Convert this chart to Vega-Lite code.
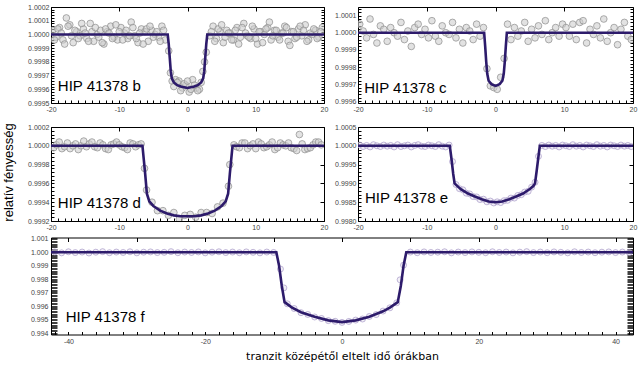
{
"$schema": "https://vega.github.io/schema/vega-lite/v6.json",
"background": "white",
"padding": {"left": 0, "top": 2, "right": 2, "bottom": 2},
"config": {
  "view": {"stroke": "#000", "strokeWidth": 1},
  "axis": {"domain": false, "grid": false, "ticks": true, "labelFont": "Liberation Sans", "labelFontSize": 7, "labelColor": "#444", "tickColor": "#000", "tickWidth": 1, "tickOpacity": 1, "labelOverlap": false, "labelFlush": false, "zindex": 1}
},
"datasets": {
"pb": [{"x":-19.75,"y":1.00003},{"x":-19.25,"y":0.99998},{"x":-18.75,"y":1.00005},{"x":-18.25,"y":0.99996},{"x":-17.75,"y":1.00012},{"x":-17.25,"y":1.00007},{"x":-16.75,"y":0.99994},{"x":-16.25,"y":1.00002},{"x":-15.75,"y":0.99999},{"x":-15.25,"y":1.00004},{"x":-14.75,"y":0.99997},{"x":-14.25,"y":1.00008},{"x":-13.75,"y":0.99995},{"x":-13.25,"y":1.0},{"x":-12.75,"y":1.00003},{"x":-12.25,"y":0.99993},{"x":-11.75,"y":1.00002},{"x":-11.25,"y":1.00006},{"x":-10.75,"y":0.99998},{"x":-10.25,"y":0.99996},{"x":-9.75,"y":1.00005},{"x":-9.25,"y":1.00001},{"x":-8.75,"y":0.99997},{"x":-8.25,"y":1.00009},{"x":-7.75,"y":0.99999},{"x":-7.25,"y":0.99994},{"x":-6.75,"y":1.00004},{"x":-6.25,"y":1.00002},{"x":-5.75,"y":0.99995},{"x":-5.25,"y":1.00003},{"x":-4.75,"y":1.0},{"x":-4.25,"y":0.99998},{"x":-3.75,"y":1.00006},{"x":-3.25,"y":0.99996},{"x":-2.75,"y":0.99988},{"x":-2.25,"y":0.99966},{"x":-1.75,"y":0.99967},{"x":-1.25,"y":0.99966},{"x":-0.75,"y":0.99961},{"x":-0.25,"y":0.99963},{"x":0.25,"y":0.99958},{"x":0.75,"y":0.99967},{"x":1.25,"y":0.99961},{"x":1.75,"y":0.9996},{"x":2.25,"y":0.99973},{"x":2.75,"y":0.99987},{"x":3.25,"y":0.99999},{"x":3.75,"y":1.00006},{"x":4.25,"y":0.99997},{"x":4.75,"y":1.00002},{"x":5.25,"y":0.99994},{"x":5.75,"y":1.00003},{"x":6.25,"y":1.00001},{"x":6.75,"y":0.99996},{"x":7.25,"y":1.00005},{"x":7.75,"y":0.99998},{"x":8.25,"y":1.00008},{"x":8.75,"y":0.99999},{"x":9.25,"y":0.99997},{"x":9.75,"y":1.00004},{"x":10.25,"y":0.99993},{"x":10.75,"y":1.00002},{"x":11.25,"y":1.0},{"x":11.75,"y":1.00005},{"x":12.25,"y":0.99996},{"x":12.75,"y":1.00003},{"x":13.25,"y":0.99998},{"x":13.75,"y":1.00001},{"x":14.25,"y":1.00006},{"x":14.75,"y":0.99995},{"x":15.25,"y":1.00002},{"x":15.75,"y":0.99997},{"x":16.25,"y":1.00004},{"x":16.75,"y":0.99999},{"x":17.25,"y":1.00007},{"x":17.75,"y":0.99996},{"x":18.25,"y":1.0},{"x":18.75,"y":1.00003},{"x":19.25,"y":0.99998},{"x":19.75,"y":1.00005},
{"x":-19.5,"y":0.99996},{"x":-19,"y":1.00004},{"x":-18.5,"y":1.00001},{"x":-18,"y":0.99993},{"x":-17.5,"y":1.00006},{"x":-17,"y":0.99999},{"x":-16.5,"y":1.00003},{"x":-16,"y":0.99997},{"x":-15.5,"y":1.00008},{"x":-15,"y":1.00001},{"x":-14.5,"y":0.99995},{"x":-14,"y":1.00002},{"x":-13.5,"y":1.00005},{"x":-13,"y":0.99998},{"x":-12.5,"y":0.99994},{"x":-12,"y":1.00004},{"x":-11.5,"y":1.00001},{"x":-11,"y":0.99997},{"x":-10.5,"y":1.00007},{"x":-10,"y":1.00002},{"x":-9.5,"y":0.99996},{"x":-9,"y":1.00003},{"x":-8.5,"y":0.99999},{"x":-8,"y":1.00005},{"x":-7.5,"y":0.99997},{"x":-7,"y":1.00001},{"x":-6.5,"y":0.99993},{"x":-6,"y":1.00004},{"x":-5.5,"y":1.00006},{"x":-5,"y":0.99998},{"x":-4.5,"y":1.00002},{"x":-4,"y":0.99995},{"x":-3.5,"y":1.00003},{"x":-2.5,"y":0.99972},{"x":-2,"y":0.99962},{"x":-1.5,"y":0.99965},{"x":-1,"y":0.99959},{"x":-0.5,"y":0.99964},{"x":0,"y":0.99966},{"x":0.5,"y":0.9996},{"x":1,"y":0.99963},{"x":1.5,"y":0.99959},{"x":2,"y":0.99965},{"x":2.5,"y":0.9998},{"x":3.5,"y":1.00002},{"x":4,"y":0.99995},{"x":4.5,"y":1.00004},{"x":5,"y":1.00007},{"x":5.5,"y":0.99998},{"x":6,"y":1.00001},{"x":6.5,"y":0.99996},{"x":7,"y":1.00003},{"x":7.5,"y":0.99993},{"x":8,"y":1.00005},{"x":8.5,"y":1.00001},{"x":9,"y":0.99998},{"x":9.5,"y":1.00006},{"x":10,"y":0.99997},{"x":10.5,"y":1.00002},{"x":11,"y":0.99994},{"x":11.5,"y":1.00004},{"x":12,"y":1.00009},{"x":12.5,"y":0.99999},{"x":13,"y":1.00003},{"x":13.5,"y":0.99996},{"x":14,"y":1.00001},{"x":14.5,"y":1.00005},{"x":15,"y":0.99992},{"x":15.5,"y":1.00002},{"x":16,"y":0.99998},{"x":16.5,"y":1.00006},{"x":17,"y":1.00003},{"x":17.5,"y":0.99995},{"x":18,"y":1.00001},{"x":18.5,"y":1.00004},{"x":19,"y":0.99997},{"x":19.5,"y":1.00002}],
"pc": [{"x":-19.75,"y":1.00005},{"x":-19.25,"y":1.00001},{"x":-18.75,"y":0.99997},{"x":-18.25,"y":1.00008},{"x":-17.75,"y":0.99999},{"x":-17.25,"y":0.99994},{"x":-16.75,"y":1.00004},{"x":-16.25,"y":1.00002},{"x":-15.75,"y":0.99995},{"x":-15.25,"y":1.00003},{"x":-14.75,"y":1.0},{"x":-14.25,"y":0.99998},{"x":-13.75,"y":1.00006},{"x":-13.25,"y":0.99996},{"x":-12.75,"y":1.00001},{"x":-12.25,"y":0.99992},{"x":-11.75,"y":1.00003},{"x":-11.25,"y":1.00005},{"x":-10.75,"y":0.99999},{"x":-10.25,"y":1.00002},{"x":-9.75,"y":0.99997},{"x":-9.25,"y":1.00007},{"x":-8.75,"y":0.99998},{"x":-8.25,"y":0.99995},{"x":-7.75,"y":1.00004},{"x":-7.25,"y":1.0},{"x":-6.75,"y":0.99999},{"x":-6.25,"y":1.00006},{"x":-5.75,"y":0.99997},{"x":-5.25,"y":1.00002},{"x":-4.75,"y":0.99994},{"x":-4.25,"y":1.00003},{"x":-3.75,"y":1.00001},{"x":-3.25,"y":0.99996},{"x":-2.75,"y":1.00005},{"x":-2.25,"y":0.99998},{"x":-1.75,"y":1.00003},{"x":-1.25,"y":0.99979},{"x":-0.75,"y":0.99969},{"x":-0.25,"y":0.99968},{"x":0.25,"y":0.99967},{"x":0.75,"y":0.99974},{"x":1.25,"y":0.99985},{"x":1.75,"y":1.00005},{"x":2.25,"y":0.99996},{"x":2.75,"y":1.00003},{"x":3.25,"y":0.99998},{"x":3.75,"y":1.00001},{"x":4.25,"y":1.00006},{"x":4.75,"y":0.99995},{"x":5.25,"y":1.00002},{"x":5.75,"y":0.99997},{"x":6.25,"y":1.00004},{"x":6.75,"y":0.99999},{"x":7.25,"y":1.00007},{"x":7.75,"y":0.99996},{"x":8.25,"y":1.0},{"x":8.75,"y":1.00003},{"x":9.25,"y":0.99998},{"x":9.75,"y":1.00005},{"x":10.25,"y":1.00003},{"x":10.75,"y":0.99998},{"x":11.25,"y":1.00005},{"x":11.75,"y":0.99996},{"x":12.25,"y":1.00006},{"x":12.75,"y":1.00007},{"x":13.25,"y":0.99994},{"x":13.75,"y":1.00002},{"x":14.25,"y":0.99999},{"x":14.75,"y":1.00004},{"x":15.25,"y":0.99997},{"x":15.75,"y":1.00008},{"x":16.25,"y":0.99995},{"x":16.75,"y":1.0},{"x":17.25,"y":1.00003},{"x":17.75,"y":0.99993},{"x":18.25,"y":1.00002},{"x":18.75,"y":1.00006},{"x":19.25,"y":0.99998},{"x":19.75,"y":0.99996}],
"pd": [{"x":-19.6,"y":0.99998},{"x":-19.2,"y":1.00001},{"x":-18.8,"y":1.00004},{"x":-18.4,"y":0.99997},{"x":-18.0,"y":0.99999},{"x":-17.6,"y":1.00003},{"x":-17.2,"y":0.99997},{"x":-16.8,"y":1.0},{"x":-16.4,"y":1.00002},{"x":-16.0,"y":0.99996},{"x":-15.6,"y":1.0},{"x":-15.2,"y":1.00005},{"x":-14.8,"y":0.99999},{"x":-14.4,"y":1.00002},{"x":-14.0,"y":1.00004},{"x":-13.6,"y":0.99999},{"x":-13.2,"y":0.99998},{"x":-12.8,"y":1.00003},{"x":-12.4,"y":1.00001},{"x":-12.0,"y":0.99997},{"x":-11.6,"y":0.99996},{"x":-11.2,"y":1.00001},{"x":-10.8,"y":1.00002},{"x":-10.4,"y":1.00004},{"x":-10.0,"y":1.00001},{"x":-9.6,"y":0.99999},{"x":-9.2,"y":0.99998},{"x":-8.8,"y":0.99996},{"x":-8.4,"y":1.00003},{"x":-8.0,"y":1.00002},{"x":-7.6,"y":0.99999},{"x":-7.2,"y":1.00001},{"x":-6.8,"y":1.00002},{"x":-6.3,"y":0.99976},{"x":-6.0,"y":0.99953},{"x":-5.2,"y":0.9994},{"x":-4.4,"y":0.99931},{"x":-3.6,"y":0.99931},{"x":-2.8,"y":0.99926},{"x":-2.0,"y":0.99929},{"x":-1.2,"y":0.99922},{"x":-0.4,"y":0.99926},{"x":0.4,"y":0.99927},{"x":1.2,"y":0.99924},{"x":2.0,"y":0.99929},{"x":2.8,"y":0.99929},{"x":3.6,"y":0.99928},{"x":4.4,"y":0.99935},{"x":5.2,"y":0.99939},{"x":6.0,"y":0.99957},{"x":6.2,"y":0.9998},{"x":6.8,"y":1.00001},{"x":7.2,"y":0.99999},{"x":7.6,"y":0.99998},{"x":8.0,"y":1.00003},{"x":8.4,"y":1.00003},{"x":8.8,"y":0.99997},{"x":9.2,"y":1.0},{"x":9.6,"y":1.00002},{"x":10.0,"y":0.99997},{"x":10.4,"y":1.00004},{"x":10.8,"y":1.00002},{"x":11.2,"y":0.99998},{"x":11.6,"y":0.99999},{"x":12.0,"y":1.00001},{"x":12.4,"y":1.00004},{"x":12.8,"y":0.99996},{"x":13.2,"y":0.99998},{"x":13.6,"y":1.00003},{"x":14.0,"y":1.00001},{"x":14.4,"y":1.0},{"x":14.8,"y":1.00003},{"x":15.2,"y":0.99998},{"x":15.6,"y":0.99997},{"x":16.0,"y":0.99995},{"x":16.4,"y":1.00012},{"x":16.8,"y":1.00002},{"x":17.2,"y":0.99996},{"x":17.6,"y":0.99997},{"x":18.0,"y":0.99998},{"x":18.4,"y":1.00001},{"x":18.8,"y":1.00004},{"x":19.2,"y":1.00004},{"x":19.6,"y":1.00001}],
"pe": [{"x":-19.75,"y":1.00002},{"x":-19.25,"y":0.99998},{"x":-18.75,"y":1.00001},{"x":-18.25,"y":0.99997},{"x":-17.75,"y":1.00003},{"x":-17.25,"y":1.0},{"x":-16.75,"y":0.99998},{"x":-16.25,"y":1.00002},{"x":-15.75,"y":0.99999},{"x":-15.25,"y":1.00001},{"x":-14.75,"y":0.99997},{"x":-14.25,"y":1.00003},{"x":-13.75,"y":0.99998},{"x":-13.25,"y":1.0},{"x":-12.75,"y":1.00002},{"x":-12.25,"y":0.99997},{"x":-11.75,"y":1.00001},{"x":-11.25,"y":1.00003},{"x":-10.75,"y":0.99999},{"x":-10.25,"y":0.99998},{"x":-9.75,"y":1.00002},{"x":-9.25,"y":1.0},{"x":-8.75,"y":0.99998},{"x":-8.25,"y":1.00003},{"x":-7.75,"y":0.99999},{"x":-7.25,"y":0.99997},{"x":-6.75,"y":1.00002},{"x":-6.25,"y":0.99958},{"x":-5.75,"y":0.99897},{"x":-5.25,"y":0.99886},{"x":-4.75,"y":0.99883},{"x":-4.25,"y":0.99874},{"x":-3.75,"y":0.99872},{"x":-3.25,"y":0.99865},{"x":-2.75,"y":0.99864},{"x":-2.25,"y":0.99857},{"x":-1.75,"y":0.99858},{"x":-1.25,"y":0.99851},{"x":-0.75,"y":0.99853},{"x":-0.25,"y":0.99848},{"x":0.25,"y":0.99851},{"x":0.75,"y":0.99849},{"x":1.25,"y":0.99854},{"x":1.75,"y":0.99855},{"x":2.25,"y":0.99861},{"x":2.75,"y":0.99861},{"x":3.25,"y":0.99868},{"x":3.75,"y":0.9987},{"x":4.25,"y":0.99877},{"x":4.75,"y":0.99879},{"x":5.25,"y":0.9989},{"x":5.75,"y":0.99903},{"x":6.25,"y":0.99972},{"x":6.75,"y":1.00001},{"x":7.25,"y":0.99998},{"x":7.75,"y":1.00002},{"x":8.25,"y":0.99999},{"x":8.75,"y":1.00001},{"x":9.25,"y":0.99997},{"x":9.75,"y":1.00002},{"x":10.25,"y":1.0},{"x":10.75,"y":0.99998},{"x":11.25,"y":1.00003},{"x":11.75,"y":0.99999},{"x":12.25,"y":1.00001},{"x":12.75,"y":0.99997},{"x":13.25,"y":1.00002},{"x":13.75,"y":1.0},{"x":14.25,"y":0.99998},{"x":14.75,"y":1.00003},{"x":15.25,"y":0.99999},{"x":15.75,"y":1.00001},{"x":16.25,"y":0.99997},{"x":16.75,"y":1.00002},{"x":17.25,"y":1.0},{"x":17.75,"y":0.99998},{"x":18.25,"y":1.00002},{"x":18.75,"y":0.99999},{"x":19.25,"y":1.00001},{"x":19.75,"y":0.99998}],
"pf": [{"x":-42,"y":1.00003},{"x":-41,"y":0.99996},{"x":-40,"y":1.00004},{"x":-39,"y":0.99998},{"x":-38,"y":1.00002},{"x":-37,"y":0.99995},{"x":-36,"y":1.00001},{"x":-35,"y":1.00005},{"x":-34,"y":0.99997},{"x":-33,"y":1.00002},{"x":-32,"y":0.99999},{"x":-31,"y":1.00004},{"x":-30,"y":0.99996},{"x":-29,"y":1.00001},{"x":-28,"y":1.00003},{"x":-27,"y":0.99998},{"x":-26,"y":1.0},{"x":-25,"y":1.00005},{"x":-24,"y":0.99997},{"x":-23,"y":1.00002},{"x":-22,"y":0.99999},{"x":-21,"y":1.00003},{"x":-20,"y":0.99996},{"x":-19,"y":1.00001},{"x":-18,"y":1.00004},{"x":-17,"y":0.99998},{"x":-16,"y":1.00002},{"x":-15,"y":0.99997},{"x":-14,"y":1.00003},{"x":-13,"y":1.0},{"x":-12,"y":0.99996},{"x":-11,"y":1.00002},{"x":-10,"y":0.99999},{"x":-9,"y":0.99876},{"x":-8.5,"y":0.99736},{"x":-8,"y":0.99618},{"x":-7,"y":0.99583},{"x":-6,"y":0.99552},{"x":-5,"y":0.99539},{"x":-4,"y":0.9952},{"x":-3,"y":0.99509},{"x":-2,"y":0.99493},{"x":-1,"y":0.99488},{"x":0,"y":0.9948},{"x":1,"y":0.99487},{"x":2,"y":0.99497},{"x":3,"y":0.99505},{"x":4,"y":0.99524},{"x":5,"y":0.99538},{"x":6,"y":0.99564},{"x":7,"y":0.99588},{"x":8,"y":0.99625},{"x":8.5,"y":0.99796},{"x":9,"y":0.99905},{"x":10,"y":1.00002},{"x":11,"y":0.99997},{"x":12,"y":1.00003},{"x":13,"y":0.99999},{"x":14,"y":1.00001},{"x":15,"y":1.00004},{"x":16,"y":0.99996},{"x":17,"y":1.00002},{"x":18,"y":0.99998},{"x":19,"y":1.00003},{"x":20,"y":1.0},{"x":21,"y":0.99997},{"x":22,"y":1.00004},{"x":23,"y":0.99999},{"x":24,"y":1.00002},{"x":25,"y":0.99996},{"x":26,"y":1.00001},{"x":27,"y":1.00005},{"x":28,"y":0.99998},{"x":29,"y":1.00002},{"x":30,"y":0.99997},{"x":31,"y":1.00003},{"x":32,"y":1.0},{"x":33,"y":0.99996},{"x":34,"y":1.00004},{"x":35,"y":0.99999},{"x":36,"y":1.00002},{"x":37,"y":0.99997},{"x":38,"y":1.00001},{"x":39,"y":1.00003},{"x":40,"y":0.99998},{"x":41,"y":1.00002},{"x":42,"y":0.99999}],
"mb": [{"x":-20,"y":1.0},{"x":-2.9,"y":1.0},{"x":-2.75,"y":0.99993},{"x":-2.6,"y":0.99983},{"x":-2.45,"y":0.99973},{"x":-2.3,"y":0.99968},{"x":-2.0,"y":0.99965},{"x":-1.5,"y":0.99963},{"x":-1.0,"y":0.99962},{"x":0,"y":0.99961},{"x":1.0,"y":0.99962},{"x":1.5,"y":0.99963},{"x":2.0,"y":0.99965},{"x":2.3,"y":0.99968},{"x":2.45,"y":0.99973},{"x":2.6,"y":0.99983},{"x":2.75,"y":0.99993},{"x":2.9,"y":1.0},{"x":20,"y":1.0}],
"mc": [{"x":-20,"y":1.0},{"x":-1.65,"y":1.0},{"x":-1.5,"y":0.99992},{"x":-1.35,"y":0.99983},{"x":-1.2,"y":0.99976},{"x":-1.0,"y":0.99972},{"x":-0.6,"y":0.9997},{"x":0,"y":0.99969},{"x":0.6,"y":0.9997},{"x":1.0,"y":0.99972},{"x":1.2,"y":0.99976},{"x":1.35,"y":0.99983},{"x":1.5,"y":0.99992},{"x":1.65,"y":1.0},{"x":20,"y":1.0}],
"md": [{"x":-20,"y":1.0},{"x":-6.6,"y":1.0},{"x":-6.4,"y":0.99985},{"x":-6.2,"y":0.9997},{"x":-5.95,"y":0.99949},{"x":-5.6,"y":0.99941},{"x":-5,"y":0.99936},{"x":-4,"y":0.99931},{"x":-3,"y":0.99928},{"x":-2,"y":0.99926},{"x":-1,"y":0.99925},{"x":0,"y":0.99925},{"x":1,"y":0.99925},{"x":2,"y":0.99926},{"x":3,"y":0.99928},{"x":4,"y":0.99931},{"x":5,"y":0.99936},{"x":5.6,"y":0.99941},{"x":5.95,"y":0.99949},{"x":6.2,"y":0.9997},{"x":6.4,"y":0.99985},{"x":6.6,"y":1.0},{"x":20,"y":1.0}],
"me": [{"x":-20,"y":1.0},{"x":-6.65,"y":1.0},{"x":-6.4,"y":0.99965},{"x":-6.15,"y":0.99925},{"x":-5.95,"y":0.999},{"x":-5.5,"y":0.99892},{"x":-5,"y":0.99884},{"x":-4,"y":0.99873},{"x":-3,"y":0.99865},{"x":-2,"y":0.99858},{"x":-1,"y":0.99852},{"x":0,"y":0.9985},{"x":1,"y":0.99852},{"x":2,"y":0.99858},{"x":3,"y":0.99865},{"x":4,"y":0.99873},{"x":5,"y":0.99885},{"x":5.5,"y":0.99893},{"x":5.75,"y":0.999},{"x":6.0,"y":0.99935},{"x":6.25,"y":0.99972},{"x":6.45,"y":1.0},{"x":20,"y":1.0}],
"mf": [{"x":-42.6,"y":1.0},{"x":-9.6,"y":1.0},{"x":-9.2,"y":0.999},{"x":-8.8,"y":0.9975},{"x":-8.4,"y":0.9963},{"x":-7.3,"y":0.9959},{"x":-6,"y":0.99555},{"x":-4,"y":0.99522},{"x":-2,"y":0.99495},{"x":0,"y":0.99482},{"x":2,"y":0.99495},{"x":4,"y":0.99522},{"x":6,"y":0.99562},{"x":7,"y":0.9959},{"x":8.15,"y":0.9963},{"x":8.6,"y":0.9975},{"x":9,"y":0.999},{"x":9.4,"y":1.0},{"x":42.6,"y":1.0}]
},
"vconcat": [
{
"vconcat": [
{
"hconcat": [
{
"width": 273, "height": 96,
"resolve": {"axis": {"x": "independent", "y": "independent"}},
"layer": [
{"data": {"name": "pb"}, "mark": {"type": "point", "filled": true, "size": 45, "fill": "#cfcfcf", "fillOpacity": 0.6, "stroke": "#8c8c8c", "strokeWidth": 0.7, "clip": true},
 "encoding": {
  "x": {"field": "x", "type": "quantitative", "scale": {"domain": [-20, 20], "nice": false, "zero": false},
    "axis": {"title": null, "values": [-20,-19,-18,-17,-16,-15,-14,-13,-12,-11,-10,-9,-8,-7,-6,-5,-4,-3,-2,-1,0,1,2,3,4,5,6,7,8,9,10,11,12,13,14,15,16,17,18,19,20], "labelExpr": "datum.value % 10 == 0 ? replace(datum.label, '−', '-') : ''", "offset": -3, "tickSize": 3, "labelPadding": 2}},
  "y": {"field": "y", "type": "quantitative", "scale": {"domain": [0.9995, 1.0002], "nice": false, "zero": false},
    "axis": {"title": null, "values": [0.9995,0.99952,0.99954,0.99956,0.99958,0.9996,0.99962,0.99964,0.99966,0.99968,0.9997,0.99972,0.99974,0.99976,0.99978,0.9998,0.99982,0.99984,0.99986,0.99988,0.9999,0.99992,0.99994,0.99996,0.99998,1,1.00002,1.00004,1.00006,1.00008,1.0001,1.00012,1.00014,1.00016,1.00018,1.0002], "format": ".4f", "labelExpr": "abs(datum.value*10000 - round(datum.value*10000)) < 0.01 ? datum.label : ''", "offset": -3, "tickSize": 3, "labelPadding": 2, "minExtent": 53}}
 }},
{"data": {"name": "mb"}, "mark": {"type": "line", "color": "#2d1b6b", "strokeWidth": 2.6, "clip": true},
 "encoding": {
  "x": {"field": "x", "type": "quantitative", "scale": {"domain": [-20, 20], "nice": false, "zero": false}, "axis": null},
  "y": {"field": "y", "type": "quantitative", "scale": {"domain": [0.9995, 1.0002], "nice": false, "zero": false}, "axis": null}
 }},
{"data": {"values": [{"t": "HIP 41378 b"}]}, "mark": {"type": "text", "align": "left", "baseline": "alphabetic", "font": "Liberation Sans", "fontSize": 15, "color": "#000"},
 "encoding": {
  "x": {"datum": -19, "type": "quantitative", "scale": {"domain": [-20, 20], "nice": false, "zero": false}, "axis": {"orient": "top", "title": null, "labels": false, "values": [-20,-10,0,10,20], "offset": -4, "tickSize": 4}},
  "y": {"datum": 0.99959, "type": "quantitative", "scale": {"domain": [0.9995, 1.0002], "nice": false, "zero": false}, "axis": {"orient": "right", "title": null, "labels": false, "values": [0.9995,0.99952,0.99954,0.99956,0.99958,0.9996,0.99962,0.99964,0.99966,0.99968,0.9997,0.99972,0.99974,0.99976,0.99978,0.9998,0.99982,0.99984,0.99986,0.99988,0.9999,0.99992,0.99994,0.99996,0.99998,1,1.00002,1.00004,1.00006,1.00008,1.0001,1.00012,1.00014,1.00016,1.00018,1.0002], "offset": -3, "tickSize": 3}},
  "text": {"field": "t"}
 }}
]
},
{
"width": 275, "height": 96,
"resolve": {"axis": {"x": "independent", "y": "independent"}},
"layer": [
{"data": {"name": "pc"}, "mark": {"type": "point", "filled": true, "size": 45, "fill": "#cfcfcf", "fillOpacity": 0.6, "stroke": "#8c8c8c", "strokeWidth": 0.7, "clip": true},
 "encoding": {
  "x": {"field": "x", "type": "quantitative", "scale": {"domain": [-20, 20], "nice": false, "zero": false},
    "axis": {"title": null, "values": [-20,-19,-18,-17,-16,-15,-14,-13,-12,-11,-10,-9,-8,-7,-6,-5,-4,-3,-2,-1,0,1,2,3,4,5,6,7,8,9,10,11,12,13,14,15,16,17,18,19,20], "labelExpr": "datum.value % 10 == 0 ? replace(datum.label, '−', '-') : ''", "offset": -3, "tickSize": 3, "labelPadding": 2}},
  "y": {"field": "y", "type": "quantitative", "scale": {"domain": [0.99959, 1.00015], "nice": false, "zero": false},
    "axis": {"title": null, "values": [0.9996,0.99962,0.99964,0.99966,0.99968,0.9997,0.99972,0.99974,0.99976,0.99978,0.9998,0.99982,0.99984,0.99986,0.99988,0.9999,0.99992,0.99994,0.99996,0.99998,1,1.00002,1.00004,1.00006,1.00008,1.0001,1.00012,1.00014], "format": ".4f", "labelExpr": "abs(datum.value*10000 - round(datum.value*10000)) < 0.01 ? datum.label : ''", "offset": -3, "tickSize": 3, "labelPadding": 2}}
 }},
{"data": {"name": "mc"}, "mark": {"type": "line", "color": "#2d1b6b", "strokeWidth": 2.6, "clip": true},
 "encoding": {
  "x": {"field": "x", "type": "quantitative", "scale": {"domain": [-20, 20], "nice": false, "zero": false}, "axis": null},
  "y": {"field": "y", "type": "quantitative", "scale": {"domain": [0.99959, 1.00015], "nice": false, "zero": false}, "axis": null}
 }},
{"data": {"values": [{"t": "HIP 41378 c"}]}, "mark": {"type": "text", "align": "left", "baseline": "alphabetic", "font": "Liberation Sans", "fontSize": 15, "color": "#000"},
 "encoding": {
  "x": {"datum": -19.1, "type": "quantitative", "scale": {"domain": [-20, 20], "nice": false, "zero": false}, "axis": {"orient": "top", "title": null, "labels": false, "values": [-20,-10,0,10,20], "offset": -4, "tickSize": 4}},
  "y": {"datum": 0.99965, "type": "quantitative", "scale": {"domain": [0.99959, 1.00015], "nice": false, "zero": false}, "axis": {"orient": "right", "title": null, "labels": false, "values": [0.9996,0.99962,0.99964,0.99966,0.99968,0.9997,0.99972,0.99974,0.99976,0.99978,0.9998,0.99982,0.99984,0.99986,0.99988,0.9999,0.99992,0.99994,0.99996,0.99998,1,1.00002,1.00004,1.00006,1.00008,1.0001,1.00012,1.00014], "offset": -3, "tickSize": 3}},
  "text": {"field": "t"}
 }}
]
}
],
"spacing": 34, "bounds": "flush"
},
{
"hconcat": [
{
"width": 273, "height": 94,
"resolve": {"axis": {"x": "independent", "y": "independent"}},
"layer": [
{"data": {"name": "pd"}, "mark": {"type": "point", "filled": true, "size": 45, "fill": "#cfcfcf", "fillOpacity": 0.6, "stroke": "#8c8c8c", "strokeWidth": 0.7, "clip": true},
 "encoding": {
  "x": {"field": "x", "type": "quantitative", "scale": {"domain": [-20, 20], "nice": false, "zero": false},
    "axis": {"title": null, "values": [-20,-19,-18,-17,-16,-15,-14,-13,-12,-11,-10,-9,-8,-7,-6,-5,-4,-3,-2,-1,0,1,2,3,4,5,6,7,8,9,10,11,12,13,14,15,16,17,18,19,20], "labelExpr": "datum.value % 10 == 0 ? replace(datum.label, '−', '-') : ''", "offset": -3, "tickSize": 3, "labelPadding": 2}},
  "y": {"field": "y", "type": "quantitative", "scale": {"domain": [0.9992, 1.0002], "nice": false, "zero": false},
    "axis": {"title": "relatív fényesség", "titleFont": "Liberation Sans", "titleFontSize": 13, "titleFontWeight": "normal", "titleColor": "#000", "titleX": -42, "titleY": 45, "titleBaseline": "alphabetic", "values": [0.9992,0.99924,0.99928,0.99932,0.99936,0.9994,0.99944,0.99948,0.99952,0.99956,0.9996,0.99964,0.99968,0.99972,0.99976,0.9998,0.99984,0.99988,0.99992,0.99996,1,1.00004,1.00008,1.00012,1.00016,1.0002], "format": ".4f", "labelExpr": "abs(datum.value*5000 - round(datum.value*5000)) < 0.01 ? datum.label : ''", "offset": -3, "tickSize": 3, "labelPadding": 2, "minExtent": 53}}
 }},
{"data": {"name": "md"}, "mark": {"type": "line", "color": "#2d1b6b", "strokeWidth": 2.6, "clip": true},
 "encoding": {
  "x": {"field": "x", "type": "quantitative", "scale": {"domain": [-20, 20], "nice": false, "zero": false}, "axis": null},
  "y": {"field": "y", "type": "quantitative", "scale": {"domain": [0.9992, 1.0002], "nice": false, "zero": false}, "axis": null}
 }},
{"data": {"values": [{"t": "HIP 41378 d"}]}, "mark": {"type": "text", "align": "left", "baseline": "alphabetic", "font": "Liberation Sans", "fontSize": 15, "color": "#000"},
 "encoding": {
  "x": {"datum": -19, "type": "quantitative", "scale": {"domain": [-20, 20], "nice": false, "zero": false}, "axis": {"orient": "top", "title": null, "labels": false, "values": [-20,-10,0,10,20], "offset": -4, "tickSize": 4}},
  "y": {"datum": 0.99934, "type": "quantitative", "scale": {"domain": [0.9992, 1.0002], "nice": false, "zero": false}, "axis": {"orient": "right", "title": null, "labels": false, "values": [0.9992,0.9994,0.9996,0.9998,1,1.0002], "offset": -4, "tickSize": 4}},
  "text": {"field": "t"}
 }}
]
},
{
"width": 275, "height": 94,
"resolve": {"axis": {"x": "independent", "y": "independent"}},
"layer": [
{"data": {"name": "pe"}, "mark": {"type": "point", "filled": true, "size": 36, "fill": "#e6e1ef", "fillOpacity": 0.5, "stroke": "#a99bc9", "strokeWidth": 0.7, "clip": true},
 "encoding": {
  "x": {"field": "x", "type": "quantitative", "scale": {"domain": [-20, 20], "nice": false, "zero": false},
    "axis": {"title": null, "values": [-20,-19,-18,-17,-16,-15,-14,-13,-12,-11,-10,-9,-8,-7,-6,-5,-4,-3,-2,-1,0,1,2,3,4,5,6,7,8,9,10,11,12,13,14,15,16,17,18,19,20], "labelExpr": "datum.value % 10 == 0 ? replace(datum.label, '−', '-') : ''", "offset": -3, "tickSize": 3, "labelPadding": 2}},
  "y": {"field": "y", "type": "quantitative", "scale": {"domain": [0.998, 1.0005], "nice": false, "zero": false},
    "axis": {"title": null, "values": [0.998,0.9981,0.9982,0.9983,0.9984,0.9985,0.9986,0.9987,0.9988,0.9989,0.999,0.9991,0.9992,0.9993,0.9994,0.9995,0.9996,0.9997,0.9998,0.9999,1,1.0001,1.0002,1.0003,1.0004,1.0005], "format": ".4f", "labelExpr": "abs(datum.value*2000 - round(datum.value*2000)) < 0.01 ? datum.label : ''", "offset": -3, "tickSize": 3, "labelPadding": 2}}
 }},
{"data": {"name": "me"}, "mark": {"type": "line", "color": "#2d1b6b", "strokeWidth": 2.6, "clip": true},
 "encoding": {
  "x": {"field": "x", "type": "quantitative", "scale": {"domain": [-20, 20], "nice": false, "zero": false}, "axis": null},
  "y": {"field": "y", "type": "quantitative", "scale": {"domain": [0.998, 1.0005], "nice": false, "zero": false}, "axis": null}
 }},
{"data": {"values": [{"t": "HIP 41378 e"}]}, "mark": {"type": "text", "align": "left", "baseline": "alphabetic", "font": "Liberation Sans", "fontSize": 15, "color": "#000"},
 "encoding": {
  "x": {"datum": -19, "type": "quantitative", "scale": {"domain": [-20, 20], "nice": false, "zero": false}, "axis": {"orient": "top", "title": null, "labels": false, "values": [-20,-10,0,10,20], "offset": -4, "tickSize": 4}},
  "y": {"datum": 0.99848, "type": "quantitative", "scale": {"domain": [0.998, 1.0005], "nice": false, "zero": false}, "axis": {"orient": "right", "title": null, "labels": false, "values": [0.998,0.9985,0.999,0.9995,1,1.0005], "offset": -4, "tickSize": 4}},
  "text": {"field": "t"}
 }}
]
}
],
"spacing": 34, "bounds": "flush"
}
],
"spacing": 9
},
{
"width": 582, "height": 97,
"resolve": {"axis": {"x": "independent", "y": "independent"}},
"layer": [
{"data": {"name": "pf"}, "mark": {"type": "point", "filled": true, "size": 36, "fill": "#e6e1ef", "fillOpacity": 0.5, "stroke": "#a99bc9", "strokeWidth": 0.7, "clip": true},
 "encoding": {
  "x": {"field": "x", "type": "quantitative", "scale": {"domain": [-42.55, 42.55], "nice": false, "zero": false},
    "axis": {"title": "tranzit középétől eltelt idő órákban", "titleFont": "DejaVu Sans", "titleFontSize": 11, "titleFontWeight": "normal", "titleColor": "#000", "titlePadding": 6, "values": [-42,-40,-38,-36,-34,-32,-30,-28,-26,-24,-22,-20,-18,-16,-14,-12,-10,-8,-6,-4,-2,0,2,4,6,8,10,12,14,16,18,20,22,24,26,28,30,32,34,36,38,40,42], "labelExpr": "datum.value % 20 == 0 ? replace(datum.label, '−', '-') : ''", "offset": -3, "tickSize": 3, "labelPadding": 3}},
  "y": {"field": "y", "type": "quantitative", "scale": {"domain": [0.9939, 1.0011], "nice": false, "zero": false},
    "axis": {"title": null, "values": [0.994,0.9942,0.9944,0.9946,0.9948,0.995,0.9952,0.9954,0.9956,0.9958,0.996,0.9962,0.9964,0.9966,0.9968,0.997,0.9972,0.9974,0.9976,0.9978,0.998,0.9982,0.9984,0.9986,0.9988,0.999,0.9992,0.9994,0.9996,0.9998,1,1.0002,1.0004,1.0006,1.0008,1.001], "format": ".3f", "labelExpr": "abs(datum.value*1000 - round(datum.value*1000)) < 0.01 ? datum.label : ''", "offset": -6, "tickSize": 6, "tickWidth": 1.5, "labelPadding": 3, "minExtent": 56}}
 }},
{"data": {"name": "mf"}, "mark": {"type": "line", "color": "#2d1b6b", "strokeWidth": 2.6, "clip": true},
 "encoding": {
  "x": {"field": "x", "type": "quantitative", "scale": {"domain": [-42.55, 42.55], "nice": false, "zero": false}, "axis": null},
  "y": {"field": "y", "type": "quantitative", "scale": {"domain": [0.9939, 1.0011], "nice": false, "zero": false}, "axis": null}
 }},
{"data": {"values": [{"t": "HIP 41378 f"}]}, "mark": {"type": "text", "align": "left", "baseline": "alphabetic", "font": "Liberation Sans", "fontSize": 15, "color": "#000"},
 "encoding": {
  "x": {"datum": -40.4, "type": "quantitative", "scale": {"domain": [-42.55, 42.55], "nice": false, "zero": false}, "axis": {"orient": "top", "title": null, "labels": false, "values": [-40,-30,-20,-10,0,10,20,30,40], "offset": -4, "tickSize": 4}},
  "y": {"datum": 0.99482, "type": "quantitative", "scale": {"domain": [0.9939, 1.0011], "nice": false, "zero": false}, "axis": {"orient": "right", "title": null, "labels": false, "values": [0.994,0.9942,0.9944,0.9946,0.9948,0.995,0.9952,0.9954,0.9956,0.9958,0.996,0.9962,0.9964,0.9966,0.9968,0.997,0.9972,0.9974,0.9976,0.9978,0.998,0.9982,0.9984,0.9986,0.9988,0.999,0.9992,0.9994,0.9996,0.9998,1,1.0002,1.0004,1.0006,1.0008,1.001], "offset": -6, "tickSize": 6, "tickWidth": 1.5}},
  "text": {"field": "t"}
 }}
]
}
],
"spacing": 2.5
}
